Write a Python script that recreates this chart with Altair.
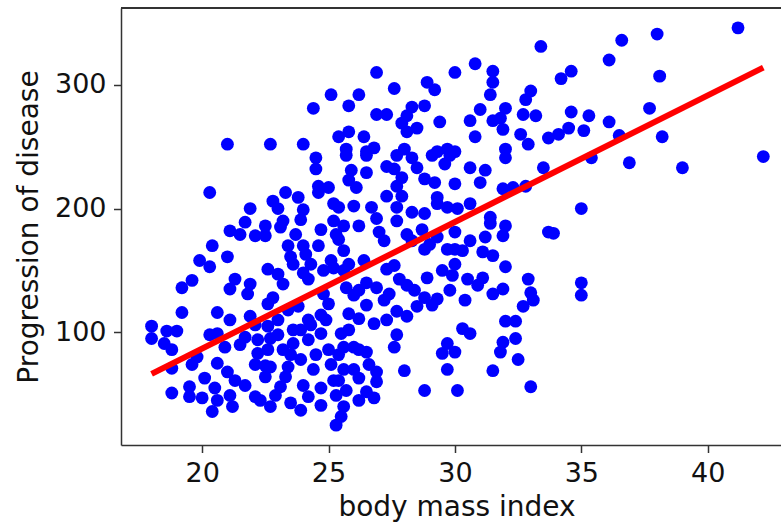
import altair as alt
import pandas as pd

# body mass index values of the scattered points
bmi = [
    25.1, 24.4, 21.0, 22.7, 24.0,
    33.4, 30.8, 30.0, 26.9, 31.5, 31.5, 28.9, 29.2, 27.6, 31.4, 33.0, 32.8, 26.2, 25.8, 28.8,
    28.3, 32.0, 31.0, 26.9, 27.3, 28.1, 27.9, 28.5, 28.1, 29.4, 30.6, 31.5, 31.8, 31.9, 32.7,
    33.2, 30.8, 32.6, 32.9, 33.7, 25.8, 25.4, 26.4, 25.7, 26.8, 26.5, 28.0, 29.3, 29.7, 30.0, 32.0,
    41.2, 38.0, 36.6, 36.1, 34.6, 34.2, 38.1, 37.7, 34.6, 35.3, 36.1, 34.5, 35.1, 34.1, 36.5, 38.2,
    35.4, 36.9, 39.0, 42.2, 35.0, 33.9, 35.0, 35.0,
    24.5, 24.5, 20.3, 24.6, 25.0, 24.6, 23.3, 23.8, 24.0, 22.8, 23.0, 21.9, 21.7, 21.1, 21.5,
    22.1, 22.5, 22.5, 23.2, 23.1, 25.2, 25.2, 23.7, 23.4, 24.0, 24.6, 20.4, 21.0, 19.9, 20.3,
    23.5, 24.1, 23.6, 24.3, 25.1, 22.6, 23.0, 24.0, 24.2, 24.8, 25.2, 19.6, 19.2, 21.3, 21.1,
    21.9, 21.8, 23.2, 22.8, 24.8,
    25.7, 26.5, 27.7, 28.3, 29.1, 29.8, 32.0, 25.9, 26.5, 27.3, 27.6, 28.5, 29.6, 30.6, 31.2,
    33.5, 25.8, 26.1, 27.9, 27.7, 28.8, 29.2, 30.0, 31.0, 31.9, 32.3, 32.8, 27.3, 27.9, 29.3,
    26.0, 26.7, 27.7, 28.3, 28.8, 29.3, 29.7, 30.1, 30.6, 25.4, 26.9, 27.7, 31.4, 31.4, 32.0,
    33.7, 25.6, 26.2, 25.3, 27.0, 27.2, 28.1, 28.7, 28.3, 29.0, 29.3, 30.0, 30.0, 30.6, 31.2,
    31.9, 25.6, 25.8, 28.8, 29.7, 30.3, 31.1, 31.5, 27.3, 27.8, 28.1, 28.9, 29.5, 30.0, 29.9,
    30.5, 31.1, 32.0, 32.9, 26.5, 26.9, 25.7, 26.0, 27.4, 28.8, 29.3, 31.5, 31.9, 33.0, 30.9,
    19.2, 20.6, 18.0, 18.6, 19.0, 18.0, 18.5, 18.8, 18.8, 21.1, 20.3, 20.6, 21.9, 21.7, 22.2,
    22.6, 23.0, 23.4, 23.8, 24.2, 24.7, 25.0, 22.6, 20.9, 19.8, 19.6, 20.6, 21.0, 21.3, 20.1,
    19.5, 19.5, 20.0, 20.5, 18.8, 20.6, 20.4, 21.2, 22.1, 22.2, 22.6, 22.1, 22.5, 22.7, 22.5,
    22.7, 22.3, 23.4, 23.3, 23.1, 23.5, 24.0, 24.2, 24.7, 24.4, 23.9, 23.6, 24.2, 24.7, 25.0,
    25.2, 25.3, 23.2, 23.0, 23.6,
    30.4, 32.7, 33.1, 25.8, 26.2, 26.5, 26.8, 27.3, 27.7, 28.1, 28.5, 29.1, 32.0, 32.4, 30.3,
    30.6, 31.9, 32.4, 31.8, 32.5, 29.7, 29.5, 30.0, 27.7, 27.6, 25.5, 25.6, 25.4, 26.0, 26.5,
    26.6, 26.9, 26.0, 26.9, 26.2, 25.4, 25.7, 26.5, 26.8, 26.2, 25.6, 25.5, 28.0, 29.7, 31.5,
    28.8, 30.1, 33.0,
    21.5, 22.1, 23.9, 24.5, 24.9, 21.7, 22.9, 23.9, 24.7, 21.1, 23.5, 22.7, 24.3, 25.3, 25.1,
    25.6, 26.2, 27.2, 24.7, 23.9, 25.4, 26.4, 27.6, 28.4, 29.8, 25.8, 26.2, 25.6,
]

# disease progression values, same order as bmi
progression = [
    292, 281, 252, 252, 252,
    331, 317, 310, 310, 311, 302, 302, 296, 297, 292, 295, 288, 292, 283, 283,
    282, 281, 280, 276, 276, 275, 269, 265, 262, 270, 271, 271, 273, 264, 276,
    275, 258, 260, 252, 257, 262, 258, 258, 248, 249, 246, 248, 246, 248, 246, 248,
    346, 341, 336, 320, 311, 305, 307, 281, 278, 275, 270, 265, 263, 260, 259, 258,
    241, 237, 233, 242, 200, 180, 140, 130,
    241, 232, 213, 218, 217, 213, 213, 209, 199, 206, 200, 200, 189, 182, 179,
    178, 186, 178, 190, 185, 204, 190, 179, 170, 170, 170, 170, 161, 158, 153,
    161, 163, 155, 155, 158, 151, 147, 148, 143, 150, 152, 142, 136, 143, 135,
    139, 131, 139, 128, 131,
    243, 243, 243, 241, 243, 243, 241, 231, 229, 234, 232, 233, 236, 233, 231,
    233, 223, 217, 225, 218, 224, 221, 220, 221, 216, 217, 218, 210, 210, 209,
    202, 201, 201, 197, 196, 204, 201, 200, 204, 201, 192, 190, 193, 188, 186,
    181, 186, 186, 179, 181, 174, 179, 183, 174, 171, 177, 181, 167, 174, 177,
    178, 166, 155, 167, 167, 166, 165, 162, 151, 143, 138, 144, 150, 155, 146,
    143, 144, 153, 143, 140, 136, 136, 130, 131, 128, 127, 131, 135, 132, 138,
    116, 116, 105, 101, 101, 95, 91, 86, 71, 110, 98, 99, 113, 96, 94,
    105, 110, 118, 121, 110, 114, 123, 123, 88, 80, 74, 75, 68, 61, 63,
    56, 48, 47, 55, 51, 45, 36, 40, 48, 83, 86, 74, 73, 72, 64,
    40, 45, 72, 64, 56, 43, 57, 48, 55, 70, 78, 91, 94, 99, 86,
    61, 25, 86, 98, 102,
    126, 121, 126, 115, 111, 122, 107, 110, 117, 113, 121, 122, 109, 109, 103,
    99, 92, 95, 84, 78, 91, 83, 84, 98, 88, 99, 88, 82, 88, 84,
    74, 68, 70, 60, 63, 61, 53, 52, 47, 45, 40, 32, 69, 70, 69,
    53, 53, 56,
    90, 106, 102, 82, 110, 57, 49, 37, 41, 49, 82, 95, 106, 49, 74,
    150, 134, 126, 183, 191, 175, 158, 154, 134, 134, 102, 86, 70,
]

# fitted regression line endpoints
line_bmi = [18.0, 42.2]
line_prog = [66.4, 313.9]

x_ticks = [20, 25, 30, 35, 40]
y_ticks = [100, 200, 300]

points_df = pd.DataFrame({"bmi": bmi, "prog": progression})
line_df = pd.DataFrame({"bmi": line_bmi, "prog": line_prog})

FONT = "DejaVu Sans"
INK = "#111111"
SPINE = "#333333"

xscale = alt.Scale(domain=[16.79, 42.9], nice=False, zero=False)
yscale = alt.Scale(domain=[8.95, 362.05], nice=False, zero=False)

xaxis = alt.Axis(
    values=x_ticks, format="d", title="body mass index", grid=False,
    labelFont=FONT, labelFontSize=27, labelColor=INK, labelPadding=8,
    labelFlush=False, labelOverlap=False,
    tickSize=7.5, tickWidth=1.5, tickColor=SPINE,
    domainColor=SPINE, domainWidth=1.5,
    titleFont=FONT, titleFontSize=28, titleFontWeight="normal", titleColor=INK,
    titleX=335.5, titleY=70, titleBaseline="alphabetic",
)
yaxis = alt.Axis(
    values=y_ticks, format="d", title="Progression of disease", grid=False,
    labelFont=FONT, labelFontSize=27, labelColor=INK, labelPadding=7.5,
    labelFlush=False, labelOverlap=False,
    tickSize=7.5, tickWidth=1.5, tickColor=SPINE,
    domainColor=SPINE, domainWidth=1.5,
    titleFont=FONT, titleFontSize=28, titleFontWeight="normal", titleColor=INK,
    titleX=-84, titleY=218.5, titleBaseline="alphabetic",
)

points = alt.Chart(points_df).mark_circle(
    size=165, color="#0000ff", opacity=1, clip=True
).encode(
    x=alt.X("bmi:Q", scale=xscale, axis=xaxis),
    y=alt.Y("prog:Q", scale=yscale, axis=yaxis),
)

line = alt.Chart(line_df).mark_line(
    color="#ff0000", strokeWidth=6, clip=True
).encode(
    x=alt.X("bmi:Q", scale=xscale, axis=xaxis),
    y=alt.Y("prog:Q", scale=yscale, axis=yaxis),
)

top_spine = alt.Chart(points_df).mark_rule(
    color=SPINE, strokeWidth=1.5
).encode(x=alt.value(0), x2=alt.value(660), y=alt.value(0))

chart = alt.layer(points, line, top_spine).properties(
    width=660,
    height=437,
    padding={"left": 121, "top": 8, "right": 0, "bottom": 78},
    autosize=alt.AutoSizeParams(type="none"),
    background="white",
).configure_view(stroke=None)

chart.save("out.html", embed_options={"renderer": "svg", "actions": False})
